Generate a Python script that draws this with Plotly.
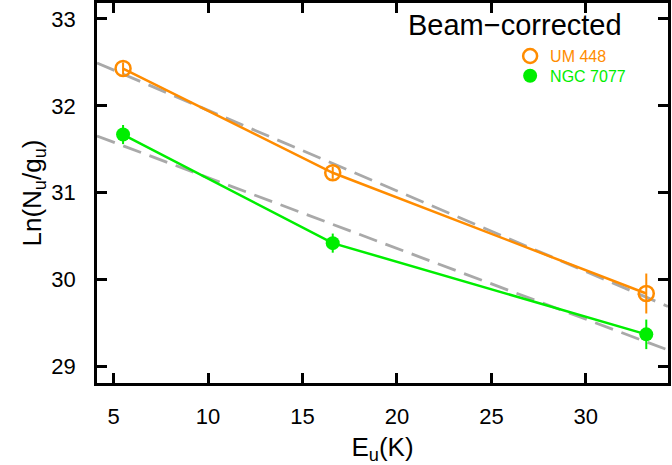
import numpy as np
import plotly.graph_objects as go

# Data
E_u = [5.5, 16.6, 33.2]
um448_lnN = [32.43, 31.23, 29.84]
um448_err = [0.07, 0.07, 0.23]
ngc7077_lnN = [31.67, 30.42, 29.37]
ngc7077_err = [0.11, 0.11, 0.17]

series_names = ["UM 448", "NGC 7077"]
x_ticks = [5, 10, 15, 20, 25, 30]
y_ticks = [29, 30, 31, 32, 33]
x_range = [4.12, 34.35]
y_range = [28.81, 33.184]

ORANGE = "#FF8C00"
GREEN = "#00EE00"
GRAY = "#A9A9A9"
FONT = "Liberation Sans, Arial, Helvetica, sans-serif"

fig = go.Figure()

# Linear fits (dashed gray) spanning the whole plot
for yv in (um448_lnN, ngc7077_lnN):
    slope, icpt = np.polyfit(E_u, yv, 1)
    xs = np.array(x_range)
    fig.add_trace(go.Scatter(
        x=xs, y=slope * xs + icpt, mode="lines",
        line=dict(color=GRAY, width=2.8, dash="19px,9px"),
        showlegend=False, hoverinfo="skip"))

# Data series
fig.add_trace(go.Scatter(
    x=E_u, y=um448_lnN, mode="lines+markers",
    line=dict(color=ORANGE, width=2.5),
    marker=dict(symbol="circle-open", size=15, color=ORANGE, line=dict(width=2.5, color=ORANGE)),
    error_y=dict(type="data", array=um448_err, color=ORANGE, thickness=2, width=0),
    showlegend=False, name=series_names[0]))
fig.add_trace(go.Scatter(
    x=E_u, y=ngc7077_lnN, mode="lines+markers",
    line=dict(color=GREEN, width=2.5),
    marker=dict(symbol="circle", size=14, color=GREEN),
    error_y=dict(type="data", array=ngc7077_err, color=GREEN, thickness=2, width=0),
    showlegend=False, name=series_names[1]))

# Legend entries (markers only), one legend each for exact placement
fig.add_trace(go.Scatter(
    x=[None], y=[None], mode="markers", legend="legend",
    marker=dict(symbol="circle-open", size=14, color=ORANGE, line=dict(width=2.5, color=ORANGE)),
    name=f"<span style='color:{ORANGE}'>{series_names[0]}</span>"))
fig.add_trace(go.Scatter(
    x=[None], y=[None], mode="markers", legend="legend2",
    marker=dict(symbol="circle", size=14, color=GREEN),
    name=f"<span style='color:{GREEN}'>{series_names[1]}</span>"))

axis_common = dict(
    showgrid=False, zeroline=False, showline=True, linecolor="black", linewidth=2.5,
    mirror="ticks", ticks="inside", ticklen=10, tickwidth=2.5, tickcolor="black",
    tickfont=dict(family=FONT, size=22, color="black"), automargin=False,
)

fig.update_xaxes(range=x_range, tickvals=x_ticks, ticktext=[str(v) for v in x_ticks],
                 ticklabelstandoff=12,
                 title=dict(text="E<sub>u</sub>(K)", font=dict(family=FONT, size=26, color="black"),
                            standoff=10),
                 **axis_common)
fig.update_yaxes(range=y_range, tickvals=y_ticks, ticktext=[str(v) for v in y_ticks],
                 ticklabelstandoff=14,
                 title=dict(text="Ln(N<sub>u</sub>/g<sub>u</sub>)", font=dict(family=FONT, size=26, color="black"),
                            standoff=3),
                 **axis_common)

legend_common = dict(xanchor="left", yanchor="top", font=dict(family=FONT, size=16),
                     bgcolor="rgba(0,0,0,0)", itemwidth=30)
fig.update_layout(
    width=672, height=465,
    margin=dict(l=97, r=4, t=3, b=82, pad=0),
    paper_bgcolor="white", plot_bgcolor="white",
    font=dict(family=FONT, color="black"),
    showlegend=True,
    legend=dict(x=0.7235, y=0.905, **legend_common),
    legend2=dict(x=0.7235, y=0.853, **legend_common),
    annotations=[dict(text="Beam\u2212corrected", xref="paper", yref="paper",
                      x=0.732, y=0.99, xanchor="center", yanchor="top", showarrow=False,
                      font=dict(family=FONT, size=29, color="black"))],
)

fig.write_html("out.html", config={"displayModeBar": False},
               post_script="document.body.style.margin='0';document.body.style.overflow='hidden';")
